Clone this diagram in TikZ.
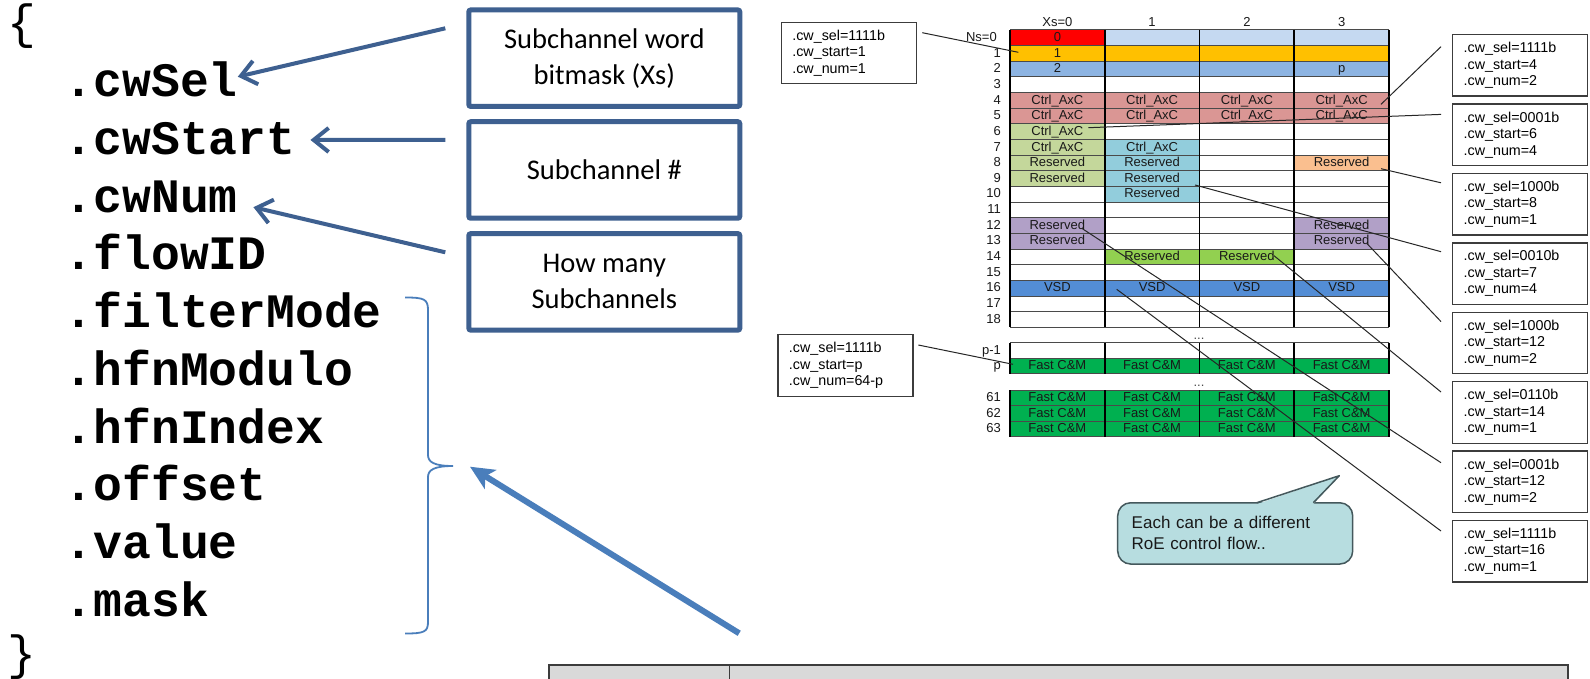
\documentclass[tikz,border=0pt]{standalone}
\usepackage{fontspec}
\usetikzlibrary{arrows.meta,calc}
\newfontfamily\arialf{Liberation Sans}
\newfontfamily\codef{Liberation Mono}
\newfontfamily\calf{Carlito}
\definecolor{boxblue}{HTML}{3E6090}
\definecolor{braceblue}{HTML}{4A7EBB}
\definecolor{edgegray}{HTML}{3C3C3C}
\definecolor{gridgray}{HTML}{4A4A4A}
\definecolor{cRed}{HTML}{FF0000}
\definecolor{cPale}{HTML}{C5D9F1}
\definecolor{cOrange}{HTML}{FFC000}
\definecolor{cMid}{HTML}{8DB4E2}
\definecolor{cRose}{HTML}{DA9694}
\definecolor{cSage}{HTML}{C4D79B}
\definecolor{cTeal}{HTML}{92CDDC}
\definecolor{cPeach}{HTML}{FABF8F}
\definecolor{cLav}{HTML}{B1A0C7}
\definecolor{cLime}{HTML}{92D050}
\definecolor{cVsd}{HTML}{538DD5}
\definecolor{cGreen}{HTML}{00B050}
\definecolor{noteFill}{HTML}{B7DDE0}
\definecolor{noteEdge}{HTML}{44585C}
\definecolor{barFill}{HTML}{D9D9D9}

% one table cell: column, row name, top y, fill, text
\newcommand\tcell[5]{\node[tcellbox,fill=#4,anchor=north west] (c#2-#1) at ({1010+94.75*#1},{#3}) {#5};}
% cell of the upper block, row number gives the top
\newcommand\mcell[4]{\tcell{#1}{#2}{30+15.65*#2}{#3}{#4}}

\begin{document}
\begin{tikzpicture}[x=1pt,y=-1pt,
  code/.style={font=\codef\bfseries\fontsize{48}{50}\selectfont, anchor=base west, inner sep=0pt},
  bracech/.style={font=\codef\fontsize{48}{50}\selectfont, anchor=base west, inner sep=0pt},
  bluebox/.style={draw=boxblue, line width=5pt, rounded corners=2pt, minimum width=271pt, minimum height=96.5pt, align=center, inner sep=0pt, font=\calf\fontsize{28.5}{36}\selectfont},
  pointer/.style={draw=boxblue, line width=4pt, -{Straight Barb[length=15pt,width=24pt]}},
  bigpointer/.style={draw=braceblue, line width=6pt, -{Stealth[length=24pt,width=22pt,inset=6pt]}},
  cwbox/.style={draw=edgegray, line width=1.3pt, fill=white, anchor=north west, align=left, text width=113pt, inner xsep=11pt, inner ysep=0pt, minimum height=61.5pt, font=\arialf\fontsize{14.3}{16.5}\selectfont},
  tcellbox/.style={minimum width=94.75pt, minimum height=15.65pt, inner sep=0pt, outer sep=0pt, text height=9.5pt, text depth=2.2pt, font=\arialf\fontsize{13}{14}\selectfont, text=black!90},
  lab/.style={font=\arialf\fontsize{13}{14}\selectfont, inner sep=0pt, text=black!90},
  hline/.style={draw=gridgray, line width=1pt},
  vline/.style={draw=black, line width=1.8pt},
  conn/.style={draw=black!85, line width=1pt},
  note/.style={draw=noteEdge, fill=noteFill, line width=1.5pt, rounded corners=13pt, minimum width=235pt, minimum height=61.3pt, text width=207pt, inner xsep=14pt, align=left, font=\arialf\fontsize{17}{21}\selectfont, text=black!90}
]
\useasboundingbox (0,0) rectangle (1590,679);
\fill[white] (0,0) rectangle (1590,679);

% ---------- structure fields ----------
\node[bracech] (obrace) at (7.4,38.9) {\{};
\foreach \t [count=\i from 0] in {.cwSel,.cwStart,.cwNum,.flowID,.filterMode,.hfnModulo,.hfnIndex,.offset,.value,.mask}
  \node[code] (fld\i) at (64.6,{96.7+57.75*\i}) {\t};
\node[bracech] (cbrace) at (7.4,669) {\}};

% ---------- explanation boxes ----------
\node[bluebox] (sel) at (604.3,58.2) {Subchannel word\\bitmask (Xs)};
\node[bluebox] (start) at (604.3,170) {Subchannel \#};
\node[bluebox] (num) at (604.3,281.9) {How many\\Subchannels};

\draw[pointer] ($(sel.west)+(-21,-29.9)$) -- ($(fld0.base east)+(0,-20)$);
\draw[pointer] ($(start.west)+(-21,-30)$) -- ($(fld1.base east)+(15,-14.5)$);
\draw[pointer] ($(num.west)+(-21,-29.6)$) -- ($(fld2.base east)+(15.6,-5)$);

% brace grouping the filter fields
\coordinate (bracetip) at (453,466);
\draw[braceblue, line width=1.8pt]
  (405,297.5) .. controls (424,297.5) and (428,299) .. (428,310) -- (428,455)
  .. controls (428,462) and (434,466) .. (bracetip)
  .. controls (434,466) and (428,470) .. (428,477) -- (428,622)
  .. controls (428,632) and (424,633.5) .. (405,633.5);
\coordinate (bigtail) at (739.2,633.3);
\draw[bigpointer] (bigtail) -- ($(bracetip)+(17,0.7)$);

% ---------- subchannel table ----------
\tcell{0}{0}{30}{cRed}{0}
\foreach \c in {1,2,3} {\tcell{\c}{0}{30}{cPale}{}}
\mcell{0}{1}{cOrange}{1}
\foreach \c in {1,2,3} {\mcell{\c}{1}{cOrange}{}}
\mcell{0}{2}{cMid}{2}
\mcell{1}{2}{cMid}{}
\mcell{2}{2}{cMid}{}
\mcell{3}{2}{cMid}{p}
\foreach \c in {0,...,3} {\mcell{\c}{4}{cRose}{Ctrl\_AxC} \mcell{\c}{5}{cRose}{Ctrl\_AxC}}
\mcell{0}{6}{cSage}{Ctrl\_AxC}
\mcell{0}{7}{cSage}{Ctrl\_AxC}
\mcell{1}{7}{cTeal}{Ctrl\_AxC}
\mcell{0}{8}{cSage}{Reserved}
\mcell{1}{8}{cTeal}{Reserved}
\mcell{3}{8}{cPeach}{Reserved}
\mcell{0}{9}{cSage}{Reserved}
\mcell{1}{9}{cTeal}{Reserved}
\mcell{1}{10}{cTeal}{Reserved}
\mcell{0}{12}{cLav}{Reserved}
\mcell{3}{12}{cLav}{Reserved}
\mcell{0}{13}{cLav}{Reserved}
\mcell{3}{13}{cLav}{Reserved}
\mcell{1}{14}{cLime}{Reserved}
\mcell{2}{14}{cLime}{Reserved}
\foreach \c in {0,...,3} {\mcell{\c}{16}{cVsd}{VSD}}
\foreach \c in {0,...,3} {
  \tcell{\c}{p}{358.15}{cGreen}{Fast C\&M}
  \tcell{\c}{61}{390}{cGreen}{Fast C\&M}
  \tcell{\c}{62}{405.65}{cGreen}{Fast C\&M}
  \tcell{\c}{63}{421.3}{cGreen}{Fast C\&M}
}

% grid
\foreach \r in {0,...,19} \draw[hline] (1010,{30+15.65*\r}) -- (1389,{30+15.65*\r});
\foreach \yy in {342.5,358.15,373.8,390,405.65,421.3,436.95} \draw[hline] (1010,\yy) -- (1389,\yy);
\foreach \x in {0,...,4} {
  \draw[vline] ({1010+94.75*\x},30) -- ({1010+94.75*\x},327.35);
  \draw[vline] ({1010+94.75*\x},342.5) -- ({1010+94.75*\x},373.8);
  \draw[vline] ({1010+94.75*\x},390) -- ({1010+94.75*\x},436.95);
}

% headers and row numbers
\node[lab,anchor=base] (hx0) at (1057.4,27) {Xs=0};
\node[lab,anchor=base] (hx1) at (1152.1,27) {1};
\node[lab,anchor=base] (hx2) at (1246.9,27) {2};
\node[lab,anchor=base] (hx3) at (1341.6,27) {3};
\node[lab,anchor=base east] (ns0) at (997,41.5) {Ns=0};
\foreach \r in {1,...,18} \node[lab,anchor=base east] (ns\r) at (1001,{41.5+15.65*\r}) {\r};
\node[lab,anchor=base east] (nsq) at (1001,354) {p-1};
\node[lab,anchor=base east] (nsp) at (1001,369.6) {p};
\node[lab,anchor=base east] (ns61) at (1001,401.5) {61};
\node[lab,anchor=base east] (ns62) at (1001,417.1) {62};
\node[lab,anchor=base east] (ns63) at (1001,432.8) {63};
\node[lab,anchor=base,text=black!70] (gap1) at (1199,339) {...};
\node[lab,anchor=base,text=black!70] (gap2) at (1199,386) {...};

% ---------- field setting boxes ----------
\node[cwbox] (L1) at (780.7,21.7) {.cw\_sel=1111b\\.cw\_start=1\\.cw\_num=1};
\node[cwbox] (L2) at (777.3,334) {.cw\_sel=1111b\\.cw\_start=p\\.cw\_num=64-p};
\node[cwbox] (bA) at (1452,34) {.cw\_sel=1111b\\.cw\_start=4\\.cw\_num=2};
\node[cwbox] (bB) at (1452,103.4) {.cw\_sel=0001b\\.cw\_start=6\\.cw\_num=4};
\node[cwbox] (bC) at (1452,172.8) {.cw\_sel=1000b\\.cw\_start=8\\.cw\_num=1};
\node[cwbox] (bD) at (1452,242.2) {.cw\_sel=0010b\\.cw\_start=7\\.cw\_num=4};
\node[cwbox] (bE) at (1452,311.6) {.cw\_sel=1000b\\.cw\_start=12\\.cw\_num=2};
\node[cwbox] (bF) at (1452,381) {.cw\_sel=0110b\\.cw\_start=14\\.cw\_num=1};
\node[cwbox] (bG) at (1452,450.4) {.cw\_sel=0001b\\.cw\_start=12\\.cw\_num=2};
\node[cwbox] (bH) at (1452,519.8) {.cw\_sel=1111b\\.cw\_start=16\\.cw\_num=1};

% points inside the table that the boxes refer to
\coordinate (eL1) at (1018.3,52.3);
\coordinate (eL2) at (1013,364.3);
\coordinate (eA) at (1381,104.3);
\coordinate (eB) at (1088.3,127.7);
\coordinate (eC) at (1381,168.7);
\coordinate (eD) at (1195,185);
\coordinate (eE) at (1366.7,243.3);
\coordinate (eF) at (1274,255.7);
\coordinate (eG) at (1081.7,228.3);
\coordinate (eH) at (1116.7,289.3);

\draw[conn] ($(L1.north east)+(5.3,11)$) -- (eL1);
\draw[conn] ($(L2.north east)+(4.7,11)$) -- (eL2);
\foreach \b/\e/\dy in {bA/eA/12.7,bB/eB/11,bC/eC/10,bD/eD/9.5,bE/eE/10,bF/eF/11,bG/eG/12.3,bH/eH/11.2}
  \draw[conn] ($(\b.north west)+(-11,\dy)$) -- (\e);

% ---------- callout ----------
\node[note] (remark) at (1235.2,533.4) {Each can be a different\\RoE control flow..};
\coordinate (ptip) at (1339.3,475.7);
\fill[noteFill] (1256.7,504.2) -- (ptip) -- (1313.3,504.2) -- cycle;
\draw[noteEdge, line width=1.5pt, line join=round] (1256.7,502.75) -- (ptip) -- (1313.3,502.75);

% ---------- table strip at the bottom ----------
\fill[barFill] (549,665) rectangle (1568,690);
\draw[edgegray, line width=1.5pt] (549,690) -- (549,665) -- (1568,665) -- (1568,690);
\draw[edgegray, line width=1pt] (729.5,665) -- (729.5,690);
\end{tikzpicture}
\end{document}
